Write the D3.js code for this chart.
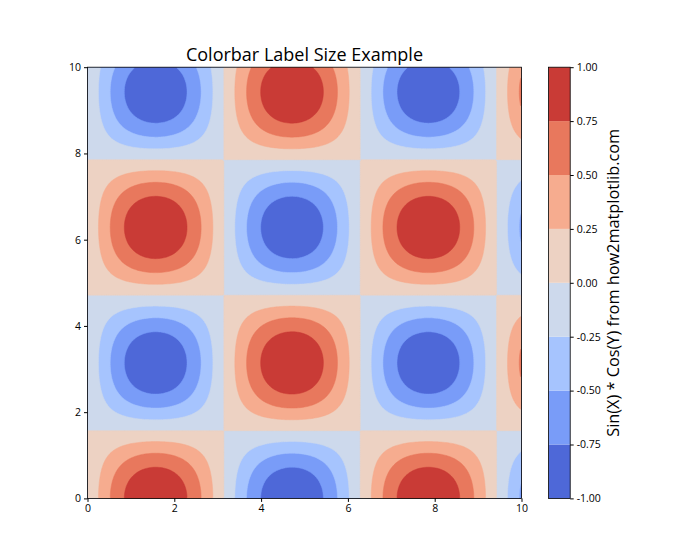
<!DOCTYPE html>
<html>
<head>
<meta charset="utf-8">
<script src="https://cdn.jsdelivr.net/npm/d3@7"></script>
<style>
  body { margin: 0; background: #fff; }
  text { font-family: "Open Sans", "Noto Sans", sans-serif; fill: #000; }
</style>
</head>
<body>
<svg id="graph" width="700" height="560"></svg>
<script>
// contour levels, colours (coolwarm at level midpoints) and tick labels
var levels = [-1, -0.75, -0.5, -0.25, 0, 0.25, 0.5, 0.75, 1];
var bandColors = ["#4e68d8", "#799cf8", "#a6c4fe", "#cdd9ec", "#edd2c3", "#f6ac8f", "#e8785d", "#c93b36"];
var xTicks = [0, 2, 4, 6, 8, 10];
var yTicks = [0, 2, 4, 6, 8, 10];
var cbTicks = [-1, -0.75, -0.5, -0.25, 0, 0.25, 0.5, 0.75, 1];
var title = "Colorbar Label Size Example";
var cbLabel = "Sin(X) * Cos(Y) from how2matplotlib.com";

// the plotted field, as named by the colorbar label: Z = sin(X) * cos(Y), X,Y in [0, 10]
var gridN = 240;
function field(x, y) { return Math.sin(x) * Math.cos(y); }
var grid = [];
for (var j = 0; j < gridN; j++) {
	for (var i = 0; i < gridN; i++) {
		grid.push(field((i + 0.5) / gridN * 10, (j + 0.5) / gridN * 10));
	}
}

var svg = d3.select("#graph");

var axLeft = 87.5, axRight = 521.5, axTop = 67.2, axBottom = 498.4;
var xScale = d3.scaleLinear().domain([0, 10]).range([axLeft, axRight]);
var yScale = d3.scaleLinear().domain([0, 10]).range([axBottom, axTop]);

var proj = d3.geoTransform({
	point: function(x, y) {
		this.stream.point(xScale(x / gridN * 10), yScale(y / gridN * 10));
	}
});
var path = d3.geoPath(proj);

var contours = d3.contours()
	.size([gridN, gridN])
	.thresholds(levels.slice(0, -1))(grid);

svg.append("clipPath").attr("id", "clip")
	.append("rect")
	.attr("x", axLeft).attr("y", axTop)
	.attr("width", axRight - axLeft).attr("height", axBottom - axTop);

var g = svg.append("g").attr("clip-path", "url(#clip)");

g.append("rect")
	.attr("x", axLeft).attr("y", axTop)
	.attr("width", axRight - axLeft).attr("height", axBottom - axTop)
	.attr("fill", bandColors[0]);

g.selectAll("path.band")
	.data(contours)
	.enter().append("path")
	.attr("class", "band")
	.attr("d", path)
	.attr("fill", function(d, i) { return bandColors[i]; })
	.attr("stroke", function(d, i) { return bandColors[i]; })
	.attr("stroke-width", 0.5);

// axes
svg.append("g")
	.attr("transform", "translate(0," + axBottom + ")")
	.call(d3.axisBottom(xScale).tickValues(xTicks).tickSize(3.5).tickPadding(3).tickFormat(d3.format("d")))
	.call(function(a) { a.selectAll("text").attr("font-size", 10.5); a.select(".domain").remove(); });

svg.append("g")
	.attr("transform", "translate(" + axLeft + ",0)")
	.call(d3.axisLeft(yScale).tickValues(yTicks).tickSize(3.5).tickPadding(3).tickFormat(d3.format("d")))
	.call(function(a) { a.selectAll("text").attr("font-size", 10.5); a.select(".domain").remove(); });

svg.append("rect")
	.attr("x", axLeft).attr("y", axTop)
	.attr("width", axRight - axLeft).attr("height", axBottom - axTop)
	.attr("fill", "none").attr("stroke", "#000").attr("stroke-width", 0.8);

svg.append("text")
	.attr("x", (axLeft + axRight) / 2)
	.attr("y", 60.5)
	.attr("text-anchor", "middle")
	.attr("font-size", "18px")
	.text(title);

// colorbar
var cbLeft = 548.6, cbWidth = 21.6;
var cbScale = d3.scaleLinear().domain([-1, 1]).range([axBottom, axTop]);

svg.selectAll("rect.cb")
	.data(bandColors)
	.enter().append("rect")
	.attr("class", "cb")
	.attr("x", cbLeft)
	.attr("y", function(d, i) { return cbScale(levels[i + 1]); })
	.attr("width", cbWidth)
	.attr("height", function(d, i) { return cbScale(levels[i]) - cbScale(levels[i + 1]); })
	.attr("fill", function(d) { return d; });

svg.append("rect")
	.attr("x", cbLeft).attr("y", axTop)
	.attr("width", cbWidth).attr("height", axBottom - axTop)
	.attr("fill", "none").attr("stroke", "#000").attr("stroke-width", 0.8);

svg.append("g")
	.attr("transform", "translate(" + (cbLeft + cbWidth) + ",0)")
	.call(d3.axisRight(cbScale).tickValues(cbTicks).tickSize(3.5).tickPadding(3).tickFormat(d3.format(".2f")))
	.call(function(a) {
		a.selectAll("text").attr("font-size", 10.5).text(function(d) { return d3.format(".2f")(d).replace("−", "-"); });
		a.select(".domain").remove();
	});

svg.append("text")
	.attr("transform", "translate(619," + ((axTop + axBottom) / 2) + ") rotate(-90)")
	.attr("text-anchor", "middle")
	.attr("font-size", "16.3px")
	.text(cbLabel);
</script>
</body>
</html>
